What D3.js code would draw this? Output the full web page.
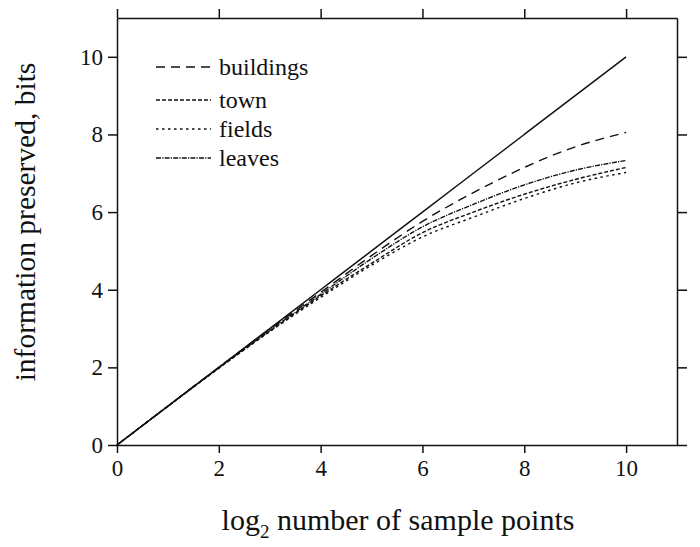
<!DOCTYPE html>
<html>
<head>
<meta charset="utf-8">
<script src="https://cdn.jsdelivr.net/npm/d3@7"></script>
<style>
    body { margin: 0; background: #fff; }
</style>
</head>
<body>
<svg id="chart" width="700" height="547"></svg>
<script>

// log2 number of sample points
var xValues = [0, 1, 2, 3, 4, 5, 6, 7, 8, 9, 10];

// information preserved, bits
var identity  = [0, 1, 2, 3, 4, 5, 6, 7, 8, 9, 10];
var buildings = [0, 1, 2, 2.98, 3.93, 4.88, 5.76, 6.5, 7.15, 7.68, 8.05];
var town      = [0, 1, 1.98, 2.93, 3.84, 4.68, 5.47, 6.0, 6.46, 6.84, 7.15];
var fields    = [0, 1, 1.98, 2.92, 3.8, 4.63, 5.36, 5.87, 6.35, 6.75, 7.02];
var leaves    = [0, 1, 1.99, 2.95, 3.88, 4.8, 5.62, 6.2, 6.7, 7.08, 7.33];

var tickValues = [0, 2, 4, 6, 8, 10];
var legendLabels = ["buildings", "town", "fields", "leaves"];

var series = [
    {"name": "identity", "values": identity, "dash": null},
    {"name": "buildings", "values": buildings, "dash": "9,6"},
    {"name": "town", "values": town, "dash": "4,2"},
    {"name": "fields", "values": fields, "dash": "2.5,3.5"},
    {"name": "leaves", "values": leaves, "dash": "5,1.2,1.2,1.2"}
];

var FONT = "'Liberation Serif', 'Times New Roman', serif";

var svg = d3.select("#chart");

var margin = {left: 117, top: 18, right: 23, bottom: 102};
var width = 700 - margin.left - margin.right;
var height = 547 - margin.top - margin.bottom;

var x = d3.scaleLinear().domain([0, 11]).range([0, width]);
var y = d3.scaleLinear().domain([0, 11]).range([height, 0]);

var g = svg.append("g")
    .attr("transform", "translate(" + margin.left + "," + margin.top + ")");

function styleAxis(sel) {
    sel.attr("font-family", FONT).attr("font-size", 23);
    sel.selectAll("path, line").attr("stroke", "#111").attr("stroke-width", 1.5);
    sel.selectAll("text").attr("fill", "#111").style("font-family", FONT);
}

// bottom
g.append("g")
    .attr("transform", "translate(0," + height + ")")
    .call(d3.axisBottom(x).tickValues(tickValues).tickSize(8).tickSizeOuter(0).tickPadding(7))
    .call(styleAxis);

// top
g.append("g")
    .call(d3.axisTop(x).tickValues(tickValues).tickSize(9).tickSizeOuter(0).tickFormat(""))
    .call(styleAxis);

// left
g.append("g")
    .call(d3.axisLeft(y).tickValues(tickValues).tickSize(9).tickSizeOuter(0).tickPadding(5))
    .call(styleAxis);

// right
g.append("g")
    .attr("transform", "translate(" + width + ",0)")
    .call(d3.axisRight(y).tickValues(tickValues).tickSize(10).tickSizeOuter(0).tickFormat(""))
    .call(styleAxis);

// lines
var line = d3.line()
    .x(function (d, i) { return x(xValues[i]); })
    .y(function (d) { return y(d); })
    .curve(d3.curveMonotoneX);

g.selectAll(".series")
    .data(series)
    .enter()
    .append("path")
    .attr("class", "series")
    .attr("d", function (d) { return line(d.values); })
    .attr("fill", "none")
    .attr("stroke", "#111")
    .attr("stroke-width", function (d) { return d.dash ? 1.4 : 1.5; })
    .attr("stroke-dasharray", function (d) { return d.dash; });

// legend
var legendY = [67, 100, 129, 158];
var legend = svg.append("g")
    .attr("font-family", FONT)
    .attr("font-size", 24);

legendLabels.forEach(function (name, i) {
    var s = series.filter(function (d) { return d.name == name; })[0];
    legend.append("line")
        .attr("x1", 156).attr("x2", 211)
        .attr("y1", legendY[i]).attr("y2", legendY[i])
        .attr("stroke", "#111")
        .attr("stroke-width", 1.4)
        .attr("stroke-dasharray", s.dash);
    legend.append("text")
        .attr("x", 219)
        .attr("y", legendY[i] + 8)
        .attr("fill", "#111")
        .style("font-family", FONT)
        .text(name);
});

// axis titles
var xTitle = svg.append("text")
    .attr("x", 398)
    .attr("y", 530)
    .attr("text-anchor", "middle")
    .style("font-family", FONT)
    .attr("font-size", 30)
    .attr("fill", "#111");
xTitle.append("tspan").text("log");
xTitle.append("tspan").attr("dy", 8).attr("font-size", 19).text("2");
xTitle.append("tspan").attr("dy", -8).text(" number of sample points");

svg.append("text")
    .attr("transform", "translate(35,222) rotate(-90)")
    .attr("text-anchor", "middle")
    .style("font-family", FONT)
    .attr("font-size", 29.5)
    .attr("fill", "#111")
    .text("information preserved, bits");

</script>
</body>
</html>
